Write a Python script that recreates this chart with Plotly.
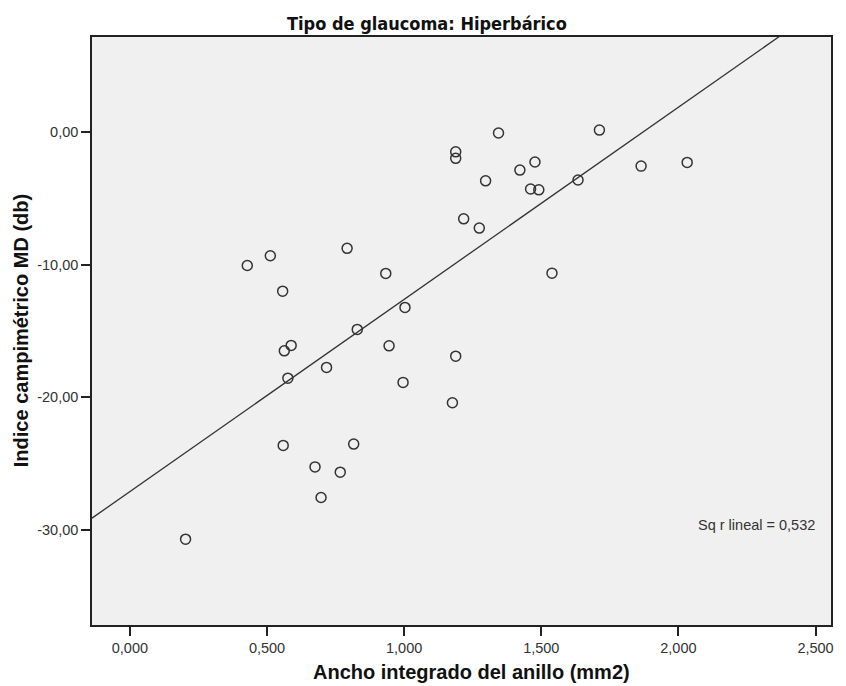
import numpy as np
import plotly.graph_objects as go

# Data
ancho_anillo = [0.203, 0.428, 0.512, 0.557, 0.588, 0.563, 0.576, 0.559, 0.675, 0.697,
                0.767, 0.816, 0.717, 0.829, 0.792, 0.933, 0.945, 1.003, 0.996, 1.188,
                1.176, 1.188, 1.188, 1.217, 1.274, 1.297, 1.344, 1.422, 1.477, 1.461,
                1.491, 1.539, 1.634, 1.712, 1.864, 2.032]
indice_md = [-30.72, -10.05, -9.32, -11.99, -16.09, -16.50, -18.56, -23.64, -25.26, -27.57,
             -25.66, -23.54, -17.75, -14.88, -8.76, -10.65, -16.12, -13.22, -18.88, -16.90,
             -20.42, -1.47, -1.96, -6.53, -7.23, -3.66, -0.05, -2.85, -2.24, -4.28,
             -4.34, -10.63, -3.60, 0.17, -2.55, -2.27]

x_ticks = [0.0, 0.5, 1.0, 1.5, 2.0, 2.5]
x_ticklabels = ["0,000", "0,500", "1,000", "1,500", "2,000", "2,500"]
y_ticks = [0, -10, -20, -30]
y_ticklabels = ["0,00", "-10,00", "-20,00", "-30,00"]

x_range = [-0.1382, 2.5564]
y_range = [-37.2, 7.2]

slope, intercept = np.polyfit(ancho_anillo, indice_md, 1)
fit_x = np.array(x_range)
fit_y = intercept + slope * fit_x

fig = go.Figure()
fig.add_trace(go.Scatter(
    x=fit_x, y=fit_y, mode="lines",
    line=dict(color="#333333", width=1.3),
    showlegend=False, hoverinfo="skip"))
fig.add_trace(go.Scatter(
    x=ancho_anillo, y=indice_md, mode="markers",
    marker=dict(symbol="circle-open", size=10, color="#333333", line=dict(width=1.5, color="#333333")),
    showlegend=False))

tick_font = dict(family="Liberation Sans, Arial, sans-serif", size=14.5, color="#333333")
fig.update_xaxes(
    range=x_range, tickvals=x_ticks, ticktext=x_ticklabels,
    showgrid=False, zeroline=False,
    showline=True, linecolor="#222222", linewidth=1.5, mirror=True,
    ticks="outside", ticklen=9, tickwidth=1.5, tickcolor="#222222",
    tickfont=tick_font)
fig.update_yaxes(
    range=y_range, tickvals=y_ticks, ticktext=y_ticklabels,
    showgrid=False, zeroline=False,
    showline=True, linecolor="#222222", linewidth=1.5, mirror=True,
    ticks="outside", ticklen=9, tickwidth=1.5, tickcolor="#222222",
    tickfont=tick_font)

W, H = 846, 686
L, R, T, B = 92, 13, 37, 61
pw, ph = W - L - R, H - T - B

def px(xp):
    return (xp - L) / pw

def py(yp):
    return (H - B - yp) / ph

annotations = [
    dict(text="<b>Tipo de glaucoma: Hiperbárico</b>", x=px(428), y=py(23), xref="paper", yref="paper",
         showarrow=False, xanchor="center", yanchor="middle",
         font=dict(family="Liberation Sans Narrow, DejaVu Sans Condensed, Arial Narrow, Liberation Sans, sans-serif", size=18, color="#111111")),
    dict(text="<b>Ancho integrado del anillo (mm2)</b>", x=px(473), y=py(672), xref="paper", yref="paper",
         showarrow=False, xanchor="center", yanchor="middle",
         font=dict(family="Liberation Sans, Arial, sans-serif", size=20, color="#111111")),
    dict(text="<b>Indice campimétrico MD (db)</b>", x=px(21), y=py(331), xref="paper", yref="paper",
         showarrow=False, xanchor="center", yanchor="middle", textangle=-90,
         font=dict(family="Liberation Sans, Arial, sans-serif", size=20, color="#111111")),
    dict(text="Sq r lineal = 0,532", x=px(758), y=py(525), xref="paper", yref="paper",
         showarrow=False, xanchor="center", yanchor="middle",
         font=dict(family="Liberation Sans, Arial, sans-serif", size=14.5, color="#333333")),
]

fig.update_layout(
    width=W, height=H,
    margin=dict(l=L, r=R, t=T, b=B, pad=0),
    paper_bgcolor="white", plot_bgcolor="#F0F0F0",
    annotations=annotations,
)

fig.write_html("out.html")
